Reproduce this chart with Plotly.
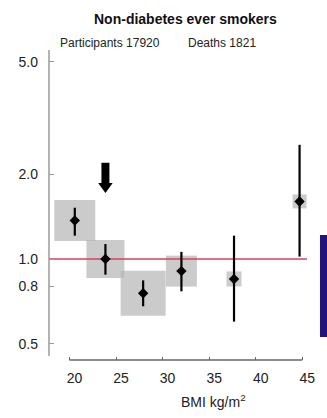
import plotly.graph_objects as go

# BMI groups: hazard ratios with 95% CI, non-diabetes ever smokers
bmi = [20.57, 23.86, 27.91, 32.02, 37.67, 44.71]
hr = [1.37, 1.00, 0.756, 0.906, 0.85, 1.60]
ci_low = [1.21, 0.88, 0.68, 0.768, 0.60, 1.02]
ci_high = [1.52, 1.13, 0.84, 1.06, 1.21, 2.54]
# box size (px) reflects the number of deaths in each group
box_px = [41, 38, 45, 31, 15, 14]

x_ticks = [20, 25, 30, 35, 40, 45]
y_ticks = [0.5, 0.8, 1.0, 2.0, 5.0]
y_tick_text = ["0.5", "0.8", "1.0", "2.0", "5.0"]

reference_bmi = 23.86  # arrow marks the reference group
null_hr = 1.0

W, H = 327, 418
L, R, T, B = 48.5, 17, 50, 58
PW, PH = W - L - R, H - T - B
X_RANGE = [17.8, 45.83]
X_PER_PX = (X_RANGE[1] - X_RANGE[0]) / PW


def px(x):
    return (x - L) / PW


def py(y):
    return (H - B - y) / PH


FONT = "Liberation Sans, Arial, sans-serif"
TXT = "#222222"

fig = go.Figure()

# grey boxes sized by deaths
fig.add_trace(go.Scatter(
    x=bmi, y=hr, mode="markers",
    marker=dict(symbol="square", size=box_px, color="#b5b5b5", line=dict(width=0)),
    hoverinfo="skip", showlegend=False,
))

# reference line at HR = 1
line_end = X_RANGE[0] + (307 - L) * X_PER_PX
fig.add_trace(go.Scatter(
    x=[X_RANGE[0], line_end], y=[null_hr, null_hr], mode="lines",
    line=dict(color="#d2435f", width=1.5),
    hoverinfo="skip", showlegend=False, cliponaxis=False,
))

# point estimates with confidence intervals
fig.add_trace(go.Scatter(
    x=bmi, y=hr, mode="markers",
    marker=dict(symbol="diamond", size=8, color="black"),
    error_y=dict(
        type="data", symmetric=False,
        array=[h - m for h, m in zip(ci_high, hr)],
        arrayminus=[m - l for m, l in zip(hr, ci_low)],
        color="black", thickness=2.2, width=0,
    ),
    showlegend=False,
))

# y axis line
fig.add_shape(type="line", xref="paper", yref="paper", x0=0, x1=0,
              y0=py(356), y1=1, line=dict(color="#9a9a9a", width=1.5))
# x axis line spanning the tick range
fig.add_shape(type="line", xref="x", yref="paper", x0=x_ticks[0], x1=x_ticks[-1],
              y0=0, y1=0, line=dict(color="#666666", width=1.3))

# side panel edge
fig.add_shape(type="rect", xref="paper", yref="paper",
              x0=px(320), x1=px(328), y0=py(337), y1=py(235),
              fillcolor="#24137a", line=dict(width=0), layer="above")

# downward arrow over the reference group
sw, hw = 4 * X_PER_PX, 7.3 * X_PER_PX
xa = reference_bmi
y_top, y_neck, y_tip = py(162.7), py(183), py(193)
arrow_path = (
    f"M{xa - sw},{y_top} L{xa + sw},{y_top} L{xa + sw},{y_neck} "
    f"L{xa + hw},{y_neck} L{xa},{y_tip} L{xa - hw},{y_neck} "
    f"L{xa - sw},{y_neck} Z"
)
fig.add_shape(type="path", xref="x", yref="paper", path=arrow_path,
              fillcolor="black", line=dict(width=0))

fig.add_annotation(x=px(185), y=py(19), xref="paper", yref="paper",
                   text="<b>Non-diabetes ever smokers</b>", showarrow=False,
                   font=dict(family=FONT, size=14, color="#111111"),
                   xanchor="center", yanchor="middle")
fig.add_annotation(x=px(58), y=py(43), xref="paper", yref="paper",
                   text="Participants 17920", showarrow=False,
                   font=dict(family=FONT, size=12, color=TXT),
                   xanchor="left", yanchor="middle")
fig.add_annotation(x=px(186), y=py(43), xref="paper", yref="paper",
                   text="Deaths 1821", showarrow=False,
                   font=dict(family=FONT, size=12, color=TXT),
                   xanchor="left", yanchor="middle")
fig.add_annotation(x=px(213), y=py(401), xref="paper", yref="paper",
                   text="BMI kg/m<sup>2</sup>", showarrow=False,
                   font=dict(family=FONT, size=14, color=TXT),
                   xanchor="center", yanchor="middle")

fig.update_layout(
    width=W, height=H,
    margin=dict(l=L, r=R, t=T, b=B, pad=0),
    paper_bgcolor="white", plot_bgcolor="white",
    xaxis=dict(
        range=X_RANGE, showline=False, showgrid=False, zeroline=False,
        tickvals=x_ticks, ticks="inside", ticklen=3, tickcolor="#666666",
        tickfont=dict(family=FONT, size=14, color=TXT),
        ticklabelstandoff=8, ticklabelshift=5,
    ),
    yaxis=dict(
        type="log", range=[-0.358, 0.741], showline=False, showgrid=False,
        zeroline=False, tickvals=y_ticks, ticktext=y_tick_text,
        ticks="inside", ticklen=5, tickcolor="#9a9a9a",
        tickfont=dict(family=FONT, size=14, color=TXT),
        ticklabelstandoff=10,
    ),
)

fig.write_html("out.html")
